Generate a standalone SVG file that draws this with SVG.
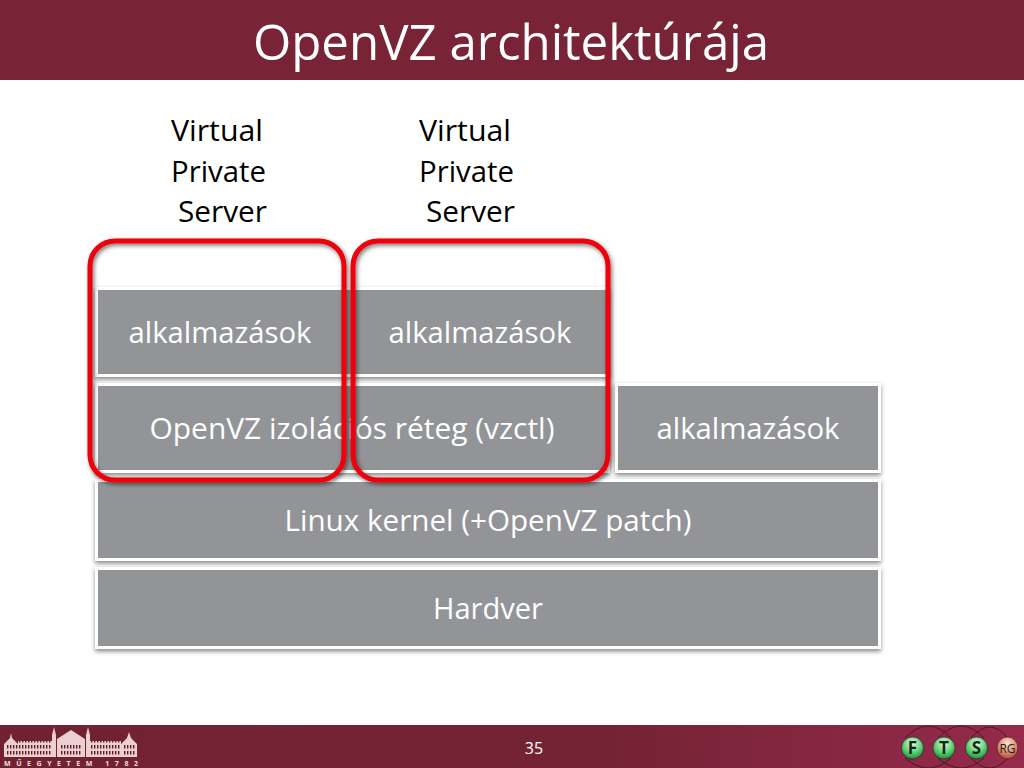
<svg xmlns="http://www.w3.org/2000/svg" width="1024" height="768" viewBox="0 0 1024 768">
<style>
text{font-family:"Open Sans","Noto Sans","Liberation Sans",sans-serif}
.box{fill:#929497;stroke:#fff;stroke-width:3;filter:url(#sh)}
.lbl{fill:#fff;font-size:29px;text-anchor:middle}
.vps{fill:#000;font-size:30px}
.ring{fill:none;stroke:#ee0008;stroke-width:5;filter:url(#sh2)}
.b{fill:#eccfd0}
.w{fill:url(#win)}
.lg{font-size:17px;font-weight:bold;fill:#12281a;text-anchor:middle}
</style>
<defs>
<filter id="sh" x="-5%" y="-10%" width="110%" height="125%"><feDropShadow dx="0" dy="2.5" stdDeviation="2" flood-color="#000" flood-opacity=".45"/></filter>
<filter id="sh2" x="-5%" y="-5%" width="110%" height="110%"><feDropShadow dx="1.5" dy="2" stdDeviation="2" flood-color="#000" flood-opacity=".55"/></filter>
<linearGradient id="foot" x1="0" x2="1" y1="0" y2="0"><stop offset="0" stop-color="#712232"/><stop offset=".6" stop-color="#742334"/><stop offset="1" stop-color="#962a4c"/></linearGradient>
<radialGradient id="g" cx=".5" cy=".3" r=".75"><stop offset="0" stop-color="#e8fbe4"/><stop offset=".55" stop-color="#5fd070"/><stop offset="1" stop-color="#1f7f35"/></radialGradient>
<radialGradient id="r" cx=".5" cy=".3" r=".75"><stop offset="0" stop-color="#fbe4da"/><stop offset=".55" stop-color="#e08a70"/><stop offset="1" stop-color="#a23c2c"/></radialGradient>
<pattern id="win" width="3" height="6" patternUnits="userSpaceOnUse"><rect width="3" height="6" fill="#eccfd0"/><rect x="1" y="1" width="1.400" height="3.500" fill="#5a1a28"/></pattern>
</defs>
<rect width="1024" height="768" fill="#fff"/>
<g id="header"><rect width="1024" height="80" fill="#792336"/>
<text x="511" y="60" fill="#fff" font-size="50" text-anchor="middle" textLength="516" lengthAdjust="spacingAndGlyphs">OpenVZ architektúrája</text></g>
<g id="vps1"><text class="vps" textLength="92" lengthAdjust="spacingAndGlyphs" x="171" y="141">Virtual</text><text class="vps" textLength="95" lengthAdjust="spacingAndGlyphs" x="171" y="182">Private</text><text class="vps" textLength="89" lengthAdjust="spacingAndGlyphs" x="178" y="222">Server</text></g>
<g id="vps2"><text class="vps" textLength="92" lengthAdjust="spacingAndGlyphs" x="419" y="141">Virtual</text><text class="vps" textLength="95" lengthAdjust="spacingAndGlyphs" x="419" y="182">Private</text><text class="vps" textLength="89" lengthAdjust="spacingAndGlyphs" x="426" y="222">Server</text></g>
<g id="hardver"><rect class="box" x="96.500" y="568.500" width="783" height="79"/><text class="lbl" x="488" y="619" textLength="110" lengthAdjust="spacingAndGlyphs">Hardver</text></g>
<g id="kernel"><rect class="box" x="96.500" y="480.500" width="783" height="79"/><text class="lbl" x="488" y="531" textLength="407" lengthAdjust="spacingAndGlyphs">Linux kernel (+OpenVZ patch)</text></g>
<g id="apps3"><rect class="box" x="616.500" y="384.500" width="263" height="87"/><text class="lbl" x="748" y="439" textLength="183" lengthAdjust="spacingAndGlyphs">alkalmazások</text></g>
<g id="izolacio"><rect class="box" x="96.500" y="384.500" width="512" height="87"/><text class="lbl" x="352" y="439" textLength="405" lengthAdjust="spacingAndGlyphs">OpenVZ izolációs réteg (vzctl)</text></g>
<g id="apps1"><rect class="box" x="96.500" y="288.500" width="512" height="87"/><rect x="98" y="290" width="509" height="84" fill="#929497"/><text class="lbl" x="220" y="343" textLength="183" lengthAdjust="spacingAndGlyphs">alkalmazások</text></g>
<g id="apps2"><text class="lbl" x="480" y="343" textLength="183" lengthAdjust="spacingAndGlyphs">alkalmazások</text></g>
<g id="connectors"><rect class="ring" x="90" y="241" width="254" height="239" rx="25"/><rect class="ring" x="353" y="241" width="255" height="239" rx="25"/></g>
<g id="footer"><rect y="725" width="1024" height="43" fill="url(#foot)"/>
<text x="534" y="754" fill="#fff" font-size="16" text-anchor="middle">35</text>
<g id="logo-building">
<path class="b" d="M4 757v-13l6-6 1-5 1 5 6 6v13zM121 757v-13l6-6 2-6 2 6 6 6v13zM52 757v-22l2-8 2 8v22zM86 757v-22l2-8 2 8v22zM57 757v-18l14-9 14 9v18z"/>
<rect class="w" x="18" y="741" width="34" height="16"/>
<rect class="w" x="90" y="741" width="31" height="16"/>
<rect class="w" x="6" y="745" width="12" height="12"/>
<rect class="w" x="123" y="745" width="12" height="12"/>
<rect class="w" x="60" y="745" width="22" height="12"/>
<text x="71" y="765.500" fill="#f3dfe0" font-size="7" font-weight="bold" text-anchor="middle" textLength="134">MŰEGYETEM 1782</text></g>
<g id="logo-ftsrg">
<path d="M905 738Q928 714 951 738M938 738Q961 714 984 738M971 738Q990 716 1008 738M905 758Q928 778 951 758M938 758Q961 778 984 758M971 758Q990 778 1008 758" fill="none" stroke="#4a1822" stroke-width="1"/>
<ellipse cx="912.500" cy="748" rx="11" ry="11" fill="url(#g)" stroke="#123" stroke-width=".6"/><text class="lg" x="912.500" y="754">F</text>
<ellipse cx="944" cy="748" rx="11" ry="11" fill="url(#g)" stroke="#123" stroke-width=".6"/><text class="lg" x="944" y="754">T</text>
<ellipse cx="976.500" cy="748" rx="11" ry="11" fill="url(#g)" stroke="#123" stroke-width=".6"/><text class="lg" x="976.500" y="754">S</text>
<ellipse cx="1007.500" cy="748" rx="10.500" ry="11" fill="url(#r)" stroke="#511" stroke-width=".6"/><text class="lg" x="1007.500" y="753" style="font-size:12px;font-weight:normal">RG</text>
</g></g>
</svg>
